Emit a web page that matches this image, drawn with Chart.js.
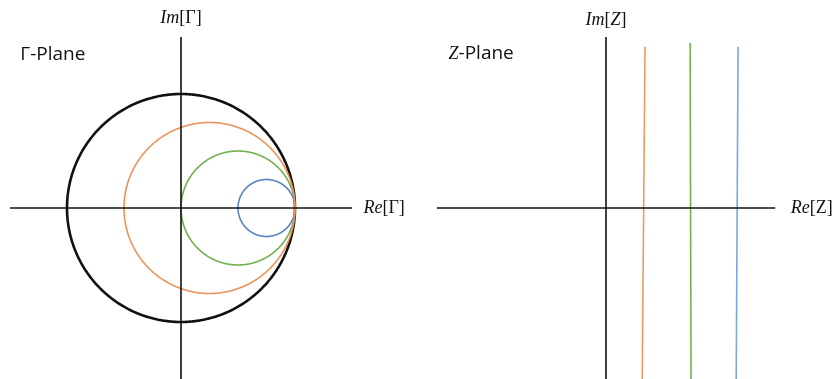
<!DOCTYPE html>
<html>
<head>
<meta charset="utf-8">
<title>Γ-Plane and Z-Plane</title>
<script src="https://cdn.jsdelivr.net/npm/chart.js@4.4.1/dist/chart.umd.min.js"></script>
<style>
  html, body { margin: 0; padding: 0; background: #ffffff; }
  #wrap { position: relative; width: 836px; height: 379px; overflow: hidden; }
  canvas { position: absolute; top: 0; }
  #gammaPlane { left: 0; }
  #zPlane { left: 418px; }
</style>
</head>
<body>
<div id="wrap">
  <canvas id="gammaPlane" width="418" height="379"></canvas>
  <canvas id="zPlane" width="418" height="379"></canvas>
</div>
<script>
// ---- Γ-plane: constant-resistance circles (centre on the real axis, radius) ----
const circleNames   = ['|Γ| = 1', 'r = 1/3', 'r = 1', 'r = 3'];
const circleCenters = [0, 0.25, 0.5, 0.75];
const circleRadii   = [1, 0.75, 0.5, 0.25];
const circleColors  = ['#111111', '#EC9359', '#72B04B', '#5A80C8'];
const circleWidths  = [2.6, 1.6, 1.6, 1.6];

// ---- Γ-plane axes extent ----
const gammaAxisExtent = 1.5;

// ---- Z-plane: constant-resistance lines (real part at the top end and bottom end) ----
const lineNames     = ['r = 1/3', 'r = 1', 'r = 3'];
const lineReTop     = [0.83, 1.79, 2.81];
const lineReBottom  = [0.77, 1.81, 2.77];
const lineImTop     = [3.43, 3.51, 3.43];
const lineImBottom  = [-3.7, -3.7, -3.7];
const lineColors    = ['#EC9A62', '#74B14E', '#79A8DA'];

// ---- Z-plane axes extent ----
const zAxisExtent = 3.6;
const zAxisBottom = -3.7;

// Points along a circle from its centre and radius
function circlePoints(cx, r) {
  const pts = [];
  const n = 360;
  for (let i = 0; i <= n; i++) {
    const t = (i / n) * 2 * Math.PI;
    pts.push({ x: cx + r * Math.cos(t), y: r * Math.sin(t) });
  }
  return pts;
}

// Draws a run of text pieces, each with its own font, starting at (x, y)
function drawPieces(ctx, pieces, x, y, align) {
  let total = 0;
  pieces.forEach(p => { ctx.font = p.font; total += ctx.measureText(p.text).width; });
  let cx = align === 'center' ? x - total / 2 : x;
  pieces.forEach(p => {
    ctx.font = p.font;
    ctx.fillText(p.text, cx, y);
    cx += ctx.measureText(p.text).width;
  });
}

// Plugin: writes axis names and plane titles at data positions
const axisText = {
  id: 'axisText',
  afterDraw(chart, args, opts) {
    const ctx = chart.ctx;
    const xs = chart.scales.x, ys = chart.scales.y;
    ctx.save();
    ctx.fillStyle = '#111111';
    ctx.textBaseline = 'middle';
    (opts.items || []).forEach(item => {
      drawPieces(ctx, item.pieces, xs.getPixelForValue(item.x), ys.getPixelForValue(item.y), item.align);
    });
    ctx.restore();
  }
};

const mathIt = 'italic 18px "Liberation Serif", "DejaVu Serif", serif';
const mathUp = '18px "Liberation Serif", "DejaVu Serif", serif';
const sans   = '19px "Open Sans", "Liberation Sans", sans-serif';

Chart.defaults.font.family = '"Open Sans", sans-serif';

const hiddenScales = (xmin, xmax, ymin, ymax) => ({
  x: { type: 'linear', min: xmin, max: xmax, display: false },
  y: { type: 'linear', min: ymin, max: ymax, display: false }
});

// ---------------- Γ-plane chart ----------------
const gammaDatasets = [
  {
    label: 'Re axis',
    data: [{ x: -gammaAxisExtent, y: 0 }, { x: gammaAxisExtent, y: 0 }],
    borderColor: '#111111', borderWidth: 1.6
  },
  {
    label: 'Im axis',
    data: [{ x: 0, y: gammaAxisExtent }, { x: 0, y: -gammaAxisExtent - 0.2 }],
    borderColor: '#111111', borderWidth: 1.6
  }
];
// coloured circles first, the unit circle last (on top); a tiny tension keeps
// the outline smooth instead of the straight-line fast path
[1, 2, 3, 0].forEach(i => {
  gammaDatasets.push({
    label: circleNames[i],
    data: circlePoints(circleCenters[i], circleRadii[i]),
    borderColor: circleColors[i],
    borderWidth: circleWidths[i],
    tension: 0.001
  });
});

const unitPx = 114;
new Chart(document.getElementById('gammaPlane'), {
  type: 'scatter',
  data: { datasets: gammaDatasets },
  options: {
    responsive: false,
    animation: false,
    devicePixelRatio: 1,
    layout: { padding: 0 },
    datasets: { scatter: { showLine: true, pointRadius: 0, pointHoverRadius: 0, fill: false } },
    scales: hiddenScales(-181 / unitPx, (418 - 181) / unitPx, -(379 - 208) / unitPx, 208 / unitPx),
    plugins: {
      legend: { display: false },
      tooltip: { enabled: false },
      axisText: {
        items: [
          { x: 0, y: 1.66, align: 'center',
            pieces: [{ text: 'Im', font: mathIt }, { text: '[Γ]', font: mathUp }] },
          { x: 1.6, y: 0, align: 'left',
            pieces: [{ text: 'Re', font: mathIt }, { text: '[Γ]', font: mathUp }] },
          { x: -1.41, y: 1.35, align: 'left',
            pieces: [{ text: 'Γ-Plane', font: sans }] }
        ]
      }
    }
  },
  plugins: [axisText]
});

// ---------------- Z-plane chart ----------------
const zDatasets = [
  {
    label: 'Re axis',
    data: [{ x: -zAxisExtent, y: 0 }, { x: zAxisExtent, y: 0 }],
    borderColor: '#111111', borderWidth: 1.6
  },
  {
    label: 'Im axis',
    data: [{ x: 0, y: zAxisExtent + 0.04 }, { x: 0, y: zAxisBottom }],
    borderColor: '#111111', borderWidth: 1.6
  }
];
lineNames.forEach((name, i) => {
  zDatasets.push({
    label: name,
    data: [{ x: lineReTop[i], y: lineImTop[i] }, { x: lineReBottom[i], y: lineImBottom[i] }],
    borderColor: lineColors[i],
    borderWidth: 1.6
  });
});

const zUnitPx = 47;
new Chart(document.getElementById('zPlane'), {
  type: 'scatter',
  data: { datasets: zDatasets },
  options: {
    responsive: false,
    animation: false,
    devicePixelRatio: 1,
    layout: { padding: 0 },
    datasets: { scatter: { showLine: true, pointRadius: 0, pointHoverRadius: 0, fill: false } },
    scales: hiddenScales(-188 / zUnitPx, (418 - 188) / zUnitPx, -(379 - 208) / zUnitPx, 208 / zUnitPx),
    plugins: {
      legend: { display: false },
      tooltip: { enabled: false },
      axisText: {
        items: [
          { x: 0, y: 4.0, align: 'center',
            pieces: [{ text: 'Im', font: mathIt }, { text: '[', font: mathUp }, { text: 'Z', font: mathIt }, { text: ']', font: mathUp }] },
          { x: 3.93, y: 0, align: 'left',
            pieces: [{ text: 'Re', font: mathIt }, { text: '[Z]', font: mathUp }] },
          { x: -3.35, y: 3.28, align: 'left',
            pieces: [{ text: 'Z', font: mathIt }, { text: '-Plane', font: sans }] }
        ]
      }
    }
  },
  plugins: [axisText]
});
</script>
</body>
</html>
